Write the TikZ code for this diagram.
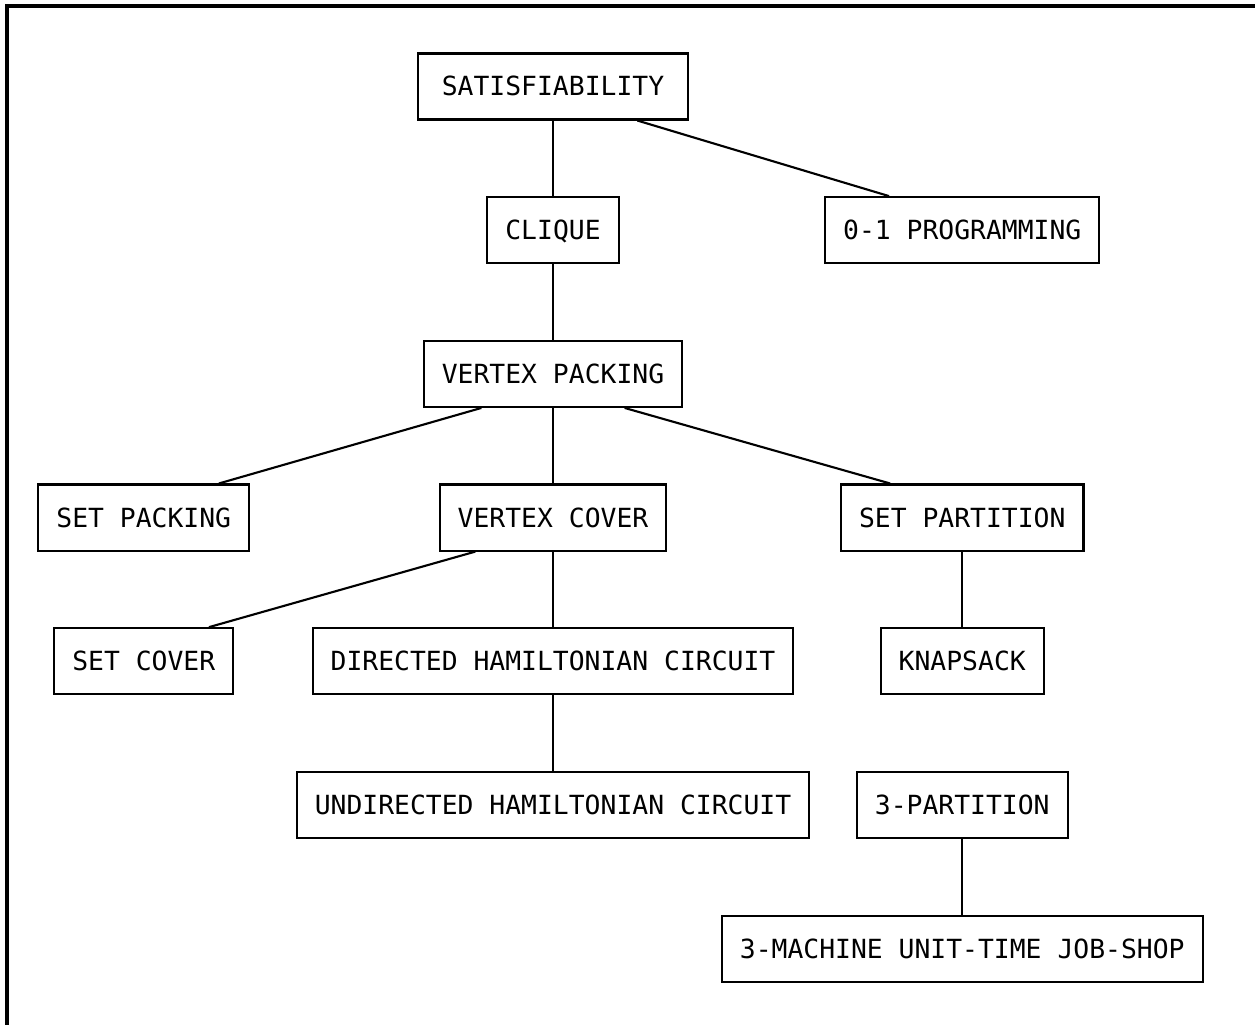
\documentclass[tikz,border=0pt]{standalone}
\usepackage{fontspec}
\setmonofont{DejaVu Sans Mono}
\usetikzlibrary{positioning,calc}

\tikzset{prob/.style={draw,line width=0.6pt,
    font=\ttfamily\fontsize{7.5}{9}\selectfont,
    inner xsep=0.18cm,minimum height=0.66cm,
    text height=0.19cm,text depth=0pt}}

\begin{document}
\begin{tikzpicture}[x=0.01cm,y=-0.01cm,line width=0.6pt,
                    node distance=1.436cm and 4.09cm,on grid]
  \useasboundingbox (0,0) rectangle (1255,1025);
  \draw[line width=0.9pt] (7,1025) -- (7,6) -- (1255,6);

  \node[prob,minimum width=2.7cm] (sat) at (553,86.5) {SATISFIABILITY};
  \node[prob] (clique) [below=of sat] {CLIQUE};
  \node[prob] (prog) [right=of clique] {0-1 PROGRAMMING};
  \node[prob] (vpack) [below=of clique] {VERTEX PACKING};
  \node[prob] (vcover) [below=of vpack] {VERTEX COVER};
  \node[prob] (spack) [left=of vcover] {SET PACKING};
  \node[prob] (spart) [right=of vcover] {SET PARTITION};
  \node[prob] (dhc) [below=of vcover] {DIRECTED HAMILTONIAN CIRCUIT};
  \node[prob] (scover) [left=of dhc] {SET COVER};
  \node[prob] (knap) [right=of dhc] {KNAPSACK};
  \node[prob] (uhc) [below=of dhc] {UNDIRECTED HAMILTONIAN CIRCUIT};
  \node[prob] (tpart) [right=of uhc] {3-PARTITION};
  \node[prob] (jobshop) [below=of tpart] {3-MACHINE UNIT-TIME JOB-SHOP};

  \draw (sat) -- (clique);
  \draw ($(sat.south west)!0.81!(sat.south east)$) -- ($(prog.north west)!0.235!(prog.north east)$);
  \draw (clique) -- (vpack);
  \draw ($(vpack.south west)!0.225!(vpack.south east)$) -- ($(spack.north west)!0.853!(spack.north east)$);
  \draw (vpack) -- (vcover);
  \draw ($(vpack.south west)!0.775!(vpack.south east)$) -- ($(spart.north west)!0.205!(spart.north east)$);
  \draw ($(vcover.south west)!0.16!(vcover.south east)$) -- ($(scover.north west)!0.86!(scover.north east)$);
  \draw (vcover) -- (dhc);
  \draw (spart) -- (knap);
  \draw (dhc) -- (uhc);
  \draw (tpart) -- (jobshop);
\end{tikzpicture}
\end{document}
